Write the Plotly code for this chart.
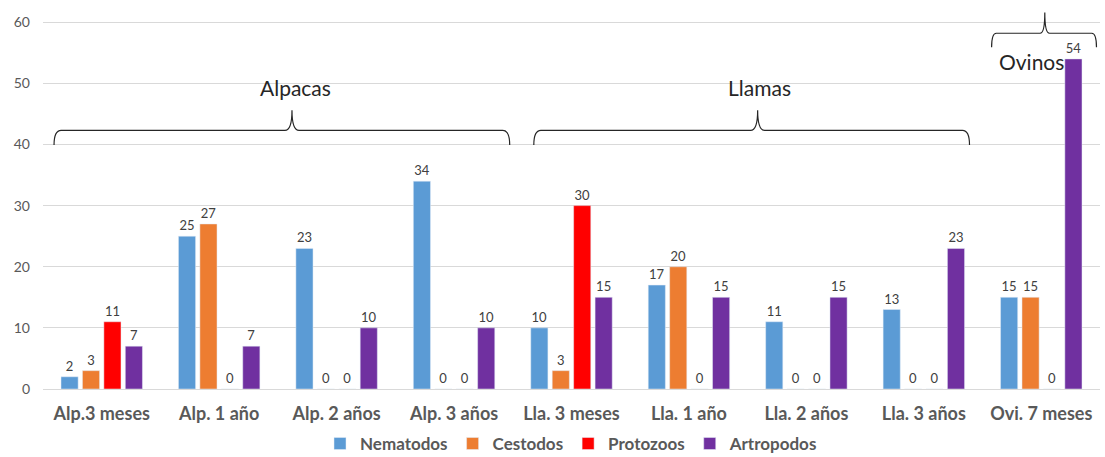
import plotly.graph_objects as go

categories = ["Alp.3 meses", "Alp. 1 año", "Alp. 2 años", "Alp. 3 años",
              "Lla. 3 meses", "Lla. 1 año", "Lla. 2 años", "Lla. 3 años", "Ovi. 7 meses"]
nematodos = [2, 25, 23, 34, 10, 17, 11, 13, 15]
cestodos = [3, 27, 0, 0, 3, 20, 0, 0, 15]
protozoos = [11, 0, 0, 0, 30, 0, 0, 0, 0]
artropodos = [7, 7, 10, 10, 15, 15, 15, 23, 54]
y_ticks = [0, 10, 20, 30, 40, 50, 60]

series = [
    ("Nematodos", nematodos, "#5B9BD5"),
    ("Cestodos", cestodos, "#ED7D31"),
    ("Protozoos", protozoos, "#FF0000"),
    ("Artropodos", artropodos, "#7030A0"),
]

FONT = "Lato, 'Open Sans', sans-serif"

fig = go.Figure()
for name, vals, col in series:
    fig.add_trace(go.Bar(
        x=categories, y=vals, name=name, marker_color=col,
        text=[str(v) for v in vals], textposition="outside",
        textfont=dict(size=13, color="#404040", family=FONT),
        cliponaxis=False,
    ))

def brace(x0, x1, xm, y_end, y_line, y_tip, dx=0.06):
    return (f"M {x0},{y_end} Q {x0},{y_line} {x0+dx},{y_line} "
            f"L {xm-dx},{y_line} Q {xm},{y_line} {xm},{y_tip} "
            f"Q {xm},{y_line} {xm+dx},{y_line} "
            f"L {x1-dx},{y_line} Q {x1},{y_line} {x1},{y_end}")

shapes = [
    dict(type="path", xref="x", yref="y",
         path=brace(-0.406, 3.474, 1.62, 39.9, 42.3, 45.6),
         line=dict(color="#262626", width=1.2)),
    dict(type="path", xref="x", yref="y",
         path=brace(3.679, 7.389, 5.585, 39.9, 42.3, 45.6),
         line=dict(color="#262626", width=1.2)),
    dict(type="path", xref="x", yref="y",
         path=brace(7.577, 8.47, 8.03, 55.9, 58.2, 61.6, dx=0.04),
         line=dict(color="#262626", width=1.2)),
]

annotations = [
    dict(x=1.65, y=49.4, text="Alpacas", showarrow=False, xref="x", yref="y",
         font=dict(size=21, color="#262626", family=FONT)),
    dict(x=5.60, y=49.4, text="Llamas", showarrow=False, xref="x", yref="y",
         font=dict(size=21, color="#262626", family=FONT)),
    dict(x=7.92, y=53.6, text="Ovinos", showarrow=False, xref="x", yref="y",
         font=dict(size=21, color="#262626", family=FONT)),
]

fig.update_layout(
    width=1105, height=457,
    margin=dict(l=43, r=5, t=10, b=68, autoexpand=False),
    paper_bgcolor="white", plot_bgcolor="white",
    barmode="group", bargap=0.27, bargroupgap=0.2,
    font=dict(family=FONT, color="#595959"),
    shapes=shapes, annotations=annotations,
    legend=dict(orientation="h", x=0.5, xanchor="center", y=-0.145, yanchor="middle",
                font=dict(size=17, color="#595959", family=FONT, weight="bold"),
                itemwidth=30, traceorder="normal"),
    xaxis=dict(showgrid=False, showline=True, linecolor="#D9D9D9", linewidth=1,
               ticks="outside", ticklen=8, tickcolor="rgba(0,0,0,0)",
               tickfont=dict(size=18, color="#595959", family=FONT, weight="bold")),
    yaxis=dict(range=[0, 62], tickvals=y_ticks, showgrid=True, gridcolor="#D9D9D9",
               zeroline=False, showline=False, ticklabelstandoff=12,
               tickfont=dict(size=14, color="#595959", family=FONT)),
)

fig.write_html("out.html", config={"displayModeBar": False},
               post_script="document.body.style.margin='0px';document.body.style.overflow='hidden';")
